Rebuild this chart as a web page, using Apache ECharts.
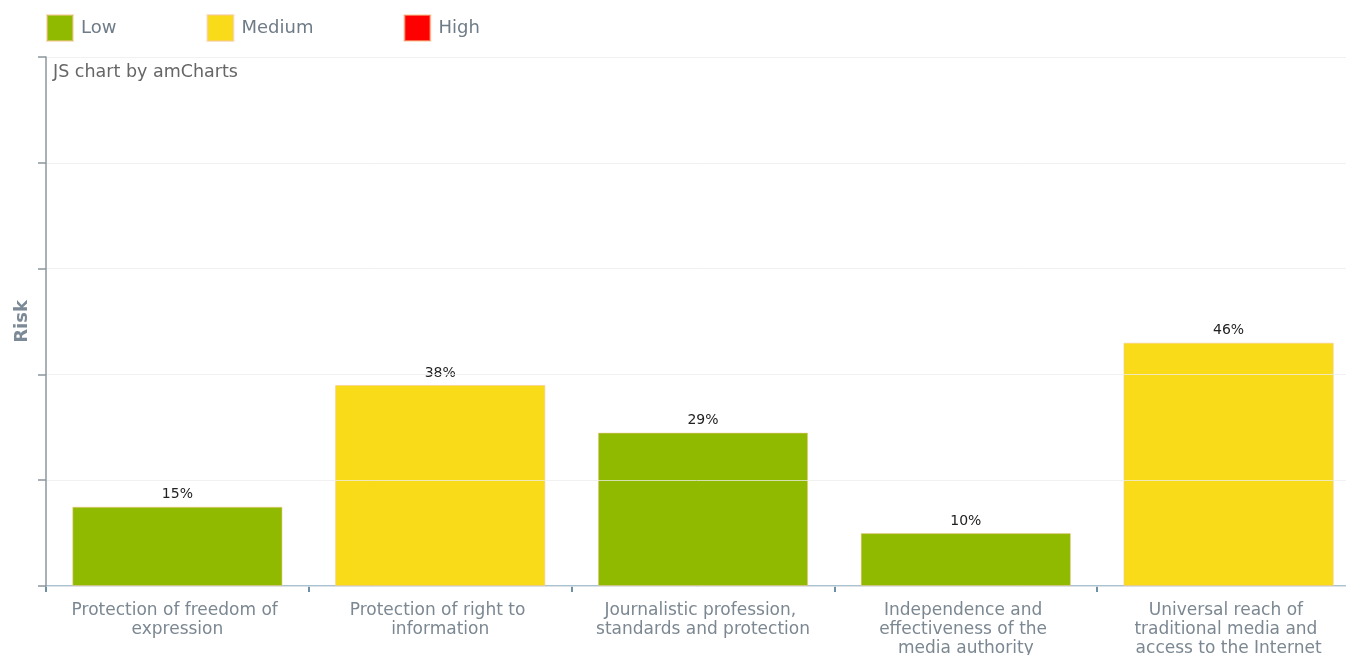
<!DOCTYPE html>
<html>
<head>
<meta charset="utf-8">
<script src="https://cdn.jsdelivr.net/npm/echarts@6/dist/echarts.min.js"></script>
<style>
html,body{margin:0;padding:0;background:#fff;}
#chart{width:1346px;height:655px;}
</style>
</head>
<body>
<div id="chart"></div>
<script>
const categories = [
  "Protection of freedom of expression",
  "Protection of right to information",
  "Journalistic profession, standards and protection",
  "Independence and effectiveness of the media authority",
  "Universal reach of traditional media and access to the Internet"
];
const values = [15, 38, 29, 10, 46];
const riskLevels = ["Low", "Medium", "Low", "Low", "Medium"];
const levelNames = ["Low", "Medium", "High"];
const levelColors = { Low: "#8FBA00", Medium: "#FADB1A", High: "#FF0000" };
const yTicks = [0, 20, 40, 60, 80, 100];

const FONT = "DejaVu Sans";
const chart = echarts.init(document.getElementById('chart'));

const series = levelNames.map(function (lvl) {
  return {
    name: lvl,
    type: 'bar',
    barWidth: '80%',
    barGap: '-100%',
    z: 2,
    itemStyle: { color: levelColors[lvl], borderColor: 'rgba(245,200,150,0.55)', borderWidth: 1 },
    label: {
      show: true, position: 'top', distance: 5,
      formatter: '{c}%', color: '#222', fontSize: 14, fontFamily: FONT
    },
    data: values.map(function (v, i) { return riskLevels[i] === lvl ? v : '-'; })
  };
});

chart.setOption({
  animation: false,
  textStyle: { fontFamily: FONT },
  legend: {
    left: 46, top: 14, padding: 0,
    itemWidth: 26, itemHeight: 26, itemGap: 90,
    icon: 'rect',
    data: levelNames,
    textStyle: { color: '#6F7C87', fontSize: 18, fontFamily: FONT, padding: [0, 0, 0, 3] }
  },
  graphic: [{
    type: 'text', left: 53, top: 63,
    style: { text: 'JS chart by amCharts', fill: '#666', fontSize: 17.5, fontFamily: FONT }
  }],
  grid: { left: 46, right: -14, top: 57, bottom: 69, containLabel: false, outerBoundsMode: 'none' },
  xAxis: {
    type: 'category',
    data: categories,
    boundaryGap: true,
    axisLine: { show: true, lineStyle: { color: '#8FB0C4', width: 1.5 } },
    axisTick: { show: true, alignWithLabel: false, length: 6, lineStyle: { color: '#3E6C88', width: 1.5 } },
    axisLabel: {
      interval: 0, margin: 15, color: '#7B8791', fontSize: 17, fontFamily: FONT,
      width: 219, overflow: 'break', lineHeight: 19, align: 'center'
    },
    splitLine: { show: false }
  },
  yAxis: {
    type: 'value',
    min: yTicks[0], max: yTicks[yTicks.length - 1], interval: yTicks[1] - yTicks[0],
    z: 3,
    name: 'Risk', nameLocation: 'middle', nameGap: 15, nameRotate: 90,
    nameTextStyle: { color: '#7B8A96', fontSize: 18, fontWeight: 'bold', fontFamily: FONT },
    axisLine: { show: true, lineStyle: { color: '#8C969E', width: 1.5 } },
    axisTick: { show: true, inside: false, length: 8, lineStyle: { color: '#8C969E', width: 1.5 } },
    axisLabel: { show: false },
    splitLine: { show: true, lineStyle: { color: 'rgba(236,236,236,0.75)', width: 1 } }
  },
  series: series
});
</script>
</body>
</html>
